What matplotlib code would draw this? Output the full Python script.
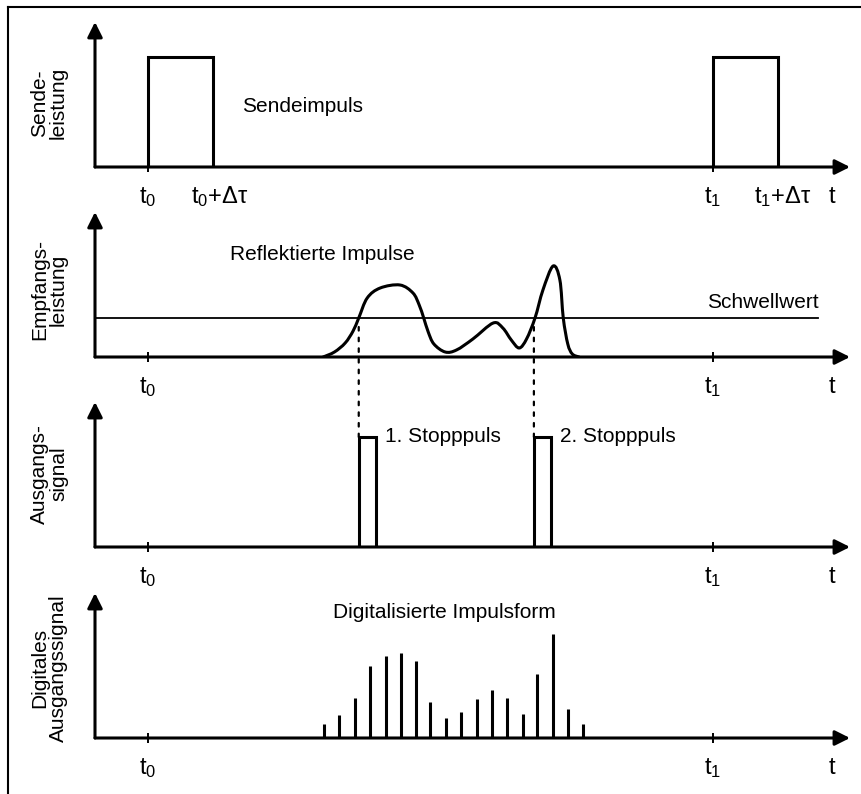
import numpy as np
import matplotlib
matplotlib.use("Agg")
import matplotlib.pyplot as plt
from matplotlib.path import Path
from matplotlib.patches import PathPatch, ConnectionPatch
from matplotlib.lines import Line2D

plt.rcParams['font.family'] = ['Liberation Sans', 'DejaVu Sans']
plt.rcParams['mathtext.fontset'] = 'custom'
plt.rcParams['mathtext.rm'] = 'Liberation Sans'
plt.rcParams['mathtext.it'] = 'Liberation Sans'

# ---------------- data (time in arbitrary units, t0 = 0, t1 = 100) ----------------
t0 = 0.0
t1 = 100.0
dtau = 11.5
pulse_height = 110

# received power curve
recv_t = [31.0, 33.0, 34.9, 36.3, 37.3, 38.8, 41.1, 44.6, 46.9, 48.0, 48.8, 49.6,
          50.6, 52.6, 54.6, 57.5, 61.1, 62.8, 64.3, 65.7, 67.0, 68.5, 69.9, 71.7,
          72.9, 73.5, 74.3, 75.1, 76.3]
recv_p = [0, 5, 14, 26, 39, 59, 69, 72, 64, 52, 39, 25,
          13, 5, 7, 18, 34, 29, 17, 9, 18, 39, 67, 91,
          77, 39, 13, 3, 0]
threshold = 39
threshold_end = 118.6

# stop pulses
stop_start = [37.3, 68.3]
stop_width = 3.0
stop_labels = ["1. Stopppuls", "2. Stopppuls"]

# digitised samples
dig_t = [31.2, 33.8, 36.6, 39.3, 42.1, 44.8, 47.4, 49.9, 52.7, 55.4, 58.2, 60.9,
         63.5, 66.4, 68.8, 71.7, 74.3, 77.0]
dig_v = [14, 23, 40, 72, 82, 85, 77, 36, 20, 26, 39, 48, 40, 24, 64, 104, 29, 14]

ylabels = ["Sende-\nleistung", "Empfangs-\nleistung", "Ausgangs-\nsignal",
           "Digitales\nAusgangssignal"]

# ---------------- layout ----------------
W, H = 862, 794
fig = plt.figure(figsize=(W / 100, H / 100), dpi=100)
fig.patch.set_facecolor('white')

x_left_px, x_right_px = 95, 850
baselines_px = [167, 357, 547, 738]
panel_h_px = 145
xlim = (-9.38, 124.25)

LW = 2.2
axes = []
for b in baselines_px:
    ax = fig.add_axes([x_left_px / W, 1 - b / H, (x_right_px - x_left_px) / W, panel_h_px / H])
    ax.set_xlim(*xlim)
    ax.set_ylim(0, panel_h_px)
    for s in ax.spines.values():
        s.set_visible(False)
    ax.set_yticks([])
    ax.set_xticks([t0, t1])
    ax.set_xticklabels([])
    ax.tick_params(axis='x', direction='inout', length=7.5, width=1.4, color='black')
    ax.patch.set_alpha(0)
    arrow = dict(arrowstyle='-|>,head_length=0.9,head_width=0.45', lw=LW, color='black',
                 shrinkA=0, shrinkB=0, mutation_scale=10)
    ax.annotate('', xy=(1, 0), xytext=(0, 0), xycoords='axes fraction',
                arrowprops=arrow, zorder=5)
    ax.annotate('', xy=(0, 1), xytext=(0, 0), xycoords='axes fraction',
                arrowprops=arrow, zorder=5)
    axes.append(ax)

ax1, ax2, ax3, ax4 = axes

FS = 15
TFS = 17


def tlabel(ax, x, text, ha='center', dx=0):
    ax.annotate(text, xy=(x, 0), xycoords=('data', 'axes fraction'),
                xytext=(dx, -26), textcoords='offset points',
                ha=ha, va='baseline', fontsize=TFS)


# panel 1: send pulses
for ts in [t0, t1]:
    ax1.plot([ts, ts, ts + dtau, ts + dtau], [0, pulse_height, pulse_height, 0],
             color='black', lw=LW, solid_joinstyle='miter', zorder=4)
ax1.text(16.6, 61, "Sendeimpuls", fontsize=FS, ha='left', va='center')
tlabel(ax1, t0, r"$\mathregular{t_0}$")
tlabel(ax1, t0 + dtau, r"$\mathregular{t_0}$+Δτ", ha='left', dx=-15.5)
tlabel(ax1, t1, r"$\mathregular{t_1}$")
tlabel(ax1, t1 + dtau, r"$\mathregular{t_1}$+Δτ", ha='left', dx=-17)
tlabel(ax1, 121.1, "t")


# panel 2: received signal
def smooth_path(xs, ys):
    pts = np.column_stack([xs, ys]).astype(float)
    n = len(pts)
    verts = [pts[0]]
    codes = [Path.MOVETO]
    for i in range(n - 1):
        p0 = pts[i - 1] if i > 0 else pts[i]
        p1 = pts[i]
        p2 = pts[i + 1]
        p3 = pts[i + 2] if i + 2 < n else pts[i + 1]
        verts += [p1 + (p2 - p0) / 6.0, p2 - (p3 - p1) / 6.0, p2]
        codes += [Path.CURVE4] * 3
    return Path(verts, codes)


ax2.add_patch(PathPatch(smooth_path(recv_t, recv_p), facecolor='none', edgecolor='black',
                        lw=LW, zorder=4, capstyle='round', joinstyle='round'))
ax2.plot([xlim[0], threshold_end], [threshold, threshold], color='black', lw=1.3, zorder=3)
ax2.text(98.9, 54, "Schwellwert", fontsize=FS, ha='left', va='center')
ax2.text(14.5, 102, "Reflektierte Impulse", fontsize=FS, ha='left', va='center')
tlabel(ax2, t0, r"$\mathregular{t_0}$")
tlabel(ax2, t1, r"$\mathregular{t_1}$")
tlabel(ax2, 121.1, "t")

# panel 3: stop pulses
for xs, lab in zip(stop_start, stop_labels):
    ax3.plot([xs, xs, xs + stop_width, xs + stop_width], [0, pulse_height, pulse_height, 0],
             color='black', lw=LW, solid_joinstyle='miter', zorder=4)
    ax3.text(xs + stop_width + 1.6, pulse_height, lab, fontsize=FS, ha='left', va='center')
    con = ConnectionPatch(xyA=(xs, 30), coordsA=ax2.transData,
                          xyB=(xs, pulse_height), coordsB=ax3.transData,
                          color='black', lw=1.6, linestyle=(0, (1.6, 3.2)))
    fig.add_artist(con)
tlabel(ax3, t0, r"$\mathregular{t_0}$")
tlabel(ax3, t1, r"$\mathregular{t_1}$")
tlabel(ax3, 121.1, "t")

# panel 4: digitised
ax4.vlines(dig_t, 0, dig_v, color='black', lw=LW, zorder=4)
ax4.text(32.7, 125, "Digitalisierte Impulsform", fontsize=FS, ha='left', va='center')
tlabel(ax4, t0, r"$\mathregular{t_0}$")
tlabel(ax4, t1, r"$\mathregular{t_1}$")
tlabel(ax4, 121.1, "t")

# y labels
label_centers_px = [103, 290, 474, 668]
for lab, cy in zip(ylabels, label_centers_px):
    fig.text(49 / W, 1 - cy / H, lab, rotation=90, fontsize=FS, ha='center', va='center',
             multialignment='center', linespacing=1.0)

# frame (top and left edges visible)
fig.add_artist(Line2D([8 / W, 1], [1 - 7 / H, 1 - 7 / H], transform=fig.transFigure,
                      color='black', lw=1.5))
fig.add_artist(Line2D([8 / W, 8 / W], [0, 1 - 7 / H], transform=fig.transFigure,
                      color='black', lw=1.5))

fig.savefig("out.png", dpi=100, facecolor='white')
